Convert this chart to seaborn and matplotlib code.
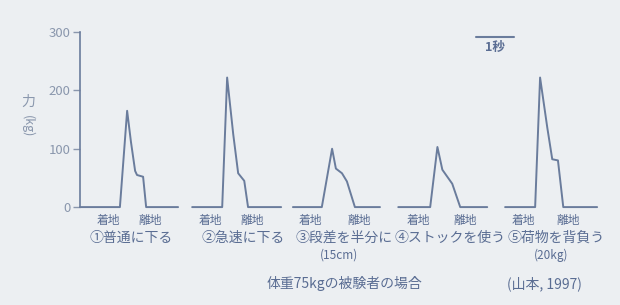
import numpy as np
import pandas as pd
import matplotlib
matplotlib.use("Agg")
import matplotlib.pyplot as plt
import seaborn as sns

# ---- data (time in seconds from each trial start, force in kg) ----
trial_names = ["①普通に下る", "②急速に下る", "③段差を半分に", "④ストックを使う", "⑤荷物を背負う"]
trial_notes = ["", "", "(15cm)", "", "(20kg)"]
trial_start = [0.0, 2.95, 5.60, 8.37, 11.18]

t1 = [0.00, 1.05, 1.24, 1.34, 1.45, 1.50, 1.66, 1.74, 2.58]
f1 = [0, 0, 165, 112, 62, 55, 52, 0, 0]
t2 = [0.00, 0.79, 0.92, 1.08, 1.21, 1.37, 1.47, 2.34]
f2 = [0, 0, 222, 125, 58, 45, 0, 0]
t3 = [0.00, 0.76, 1.03, 1.13, 1.29, 1.42, 1.63, 2.29]
f3 = [0, 0, 100, 66, 58, 44, 0, 0]
t4 = [0.00, 0.84, 1.03, 1.16, 1.29, 1.42, 1.63, 2.34]
f4 = [0, 0, 103, 64, 52, 40, 0, 0]
t5 = [0.00, 0.79, 0.92, 1.11, 1.24, 1.39, 1.53, 2.42]
f5 = [0, 0, 222, 136, 82, 80, 0, 0]

land_label = "着地"
off_label = "離地"
y_ticks = [0, 100, 200, 300]
y_label_main = "力"
y_label_unit = "(kg)"
footer = "体重75kgの被験者の場合"
source = "(山本, 1997)"
scale_label = "1秒"

times = [t1, t2, t3, t4, t5]
forces = [f1, f2, f3, f4, f5]

rows = []
for i, (ts, fs) in enumerate(zip(times, forces)):
    for t, f in zip(ts, fs):
        rows.append({"trial": i, "x": trial_start[i] + t, "force": f})
df = pd.DataFrame(rows)

sns.set_theme(style="white")
plt.rcParams["font.family"] = ["Noto Sans CJK JP", "DejaVu Sans"]

bg = "#eceff2"
line_c = "#6a7c9c"
text_c = "#5a6d93"
tick_c = "#8a97ad"

fig = plt.figure(figsize=(6.2, 3.05), dpi=100, facecolor=bg)
ax = fig.add_axes([0.129, 0.321, 0.839, 0.574])
ax.set_facecolor(bg)

sns.lineplot(data=df, x="x", y="force", units="trial", estimator=None, sort=False,
             color=line_c, linewidth=1.4, ax=ax, clip_on=False)

ax.set_xlim(0, 13.68)
ax.set_ylim(0, 300)
ax.set_yticks(y_ticks)
ax.set_yticklabels([str(v) for v in y_ticks], color=tick_c, fontsize=9.5)
ax.set_xticks([])
ax.set_xlabel("")
ax.set_ylabel("")
for s in ["top", "right", "bottom"]:
    ax.spines[s].set_visible(False)
ax.spines["left"].set_color(line_c)
ax.spines["left"].set_linewidth(1.2)
ax.tick_params(axis="y", direction="out", length=5, width=1, color=tick_c, pad=2, left=True)

# y label (vertical Japanese style)
fig.text(0.045, 0.665, y_label_main, ha="center", va="center", color=tick_c, fontsize=10)
fig.text(0.045, 0.585, y_label_unit, rotation=-90, ha="center", va="center",
         color=tick_c, fontsize=9)

# event labels and captions
for i, (ts, fs) in enumerate(zip(times, forces)):
    land = trial_start[i] + ts[1]
    off = trial_start[i] + ts[len(ts) - 2]
    ax.annotate(land_label, xy=(land - 0.3, 0), xycoords=("data", "axes fraction"),
                xytext=(0, -5), textcoords="offset points", ha="center", va="top",
                color=text_c, fontsize=8.5)
    ax.annotate(off_label, xy=(off + 0.12, 0), xycoords=("data", "axes fraction"),
                xytext=(0, -5), textcoords="offset points", ha="center", va="top",
                color=text_c, fontsize=8.5)
    ax.annotate(trial_names[i], xy=(trial_start[i] + 1.35, 0), xycoords=("data", "axes fraction"),
                xytext=(0, -17), textcoords="offset points", ha="center", va="top",
                color=text_c, fontsize=10)
    if trial_notes[i]:
        ax.annotate(trial_notes[i], xy=(trial_start[i] + 1.2, 0), xycoords=("data", "axes fraction"),
                    xytext=(0, -30), textcoords="offset points", ha="center", va="top",
                    color=text_c, fontsize=8.5)

# scale bar 1 second
ax.plot([10.42, 11.42], [292, 292], color=line_c, linewidth=1.5, clip_on=False)
ax.text(10.92, 284, scale_label, ha="center", va="top", color=text_c, fontsize=9,
        fontweight="bold")

fig.text(0.555, 0.07, footer, ha="center", va="center", color=text_c, fontsize=10)
fig.text(0.878, 0.07, source, ha="center", va="center", color=text_c, fontsize=10)

fig.savefig("out.png", dpi=100, facecolor=bg)
